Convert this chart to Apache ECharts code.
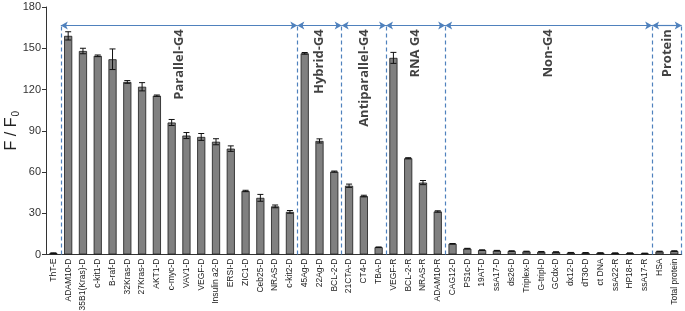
<!DOCTYPE html>
<html>
<head>
<meta charset="utf-8">
<script src="https://cdn.jsdelivr.net/npm/echarts@6/dist/echarts.min.js"></script>
<style>
html, body { margin: 0; padding: 0; background: #fff; }
#main { width: 685px; height: 311px; }
</style>
</head>
<body>
<div id="main"></div>
<script>
// 样品名称
var categories = ['ThT-E', 'ADAM10-D', '35B1(Kras)-D', 'c-kit1-D', 'B-raf-D', '32Kras-D', '27Kras-D',
    'AKT1-D', 'c-myc-D', 'VAV1-D', 'VEGF-D', 'Insulin a2-D', 'ERSI-D', 'ZIC1-D', 'Ceb25-D', 'NRAS-D',
    'c-kit2-D', '45Ag-D', '22Ag-D', 'BCL-2-D', '21CTA-D', 'CT4-D', 'TBA-D', 'VEGF-R', 'BCL-2-R',
    'NRAS-R', 'ADAM10-R', 'CAG12-D', 'PS1c-D', '19AT-D', 'ssA17-D', 'ds26-D', 'Triplex-D', 'G-tripl-D',
    'GCdx-D', 'dx12-D', 'dT30-D', 'ct DNA', 'ssA22-R', 'HP18-R', 'ssA17-R', 'HSA', 'Total protein'];

// F/F0 平均值
var values = [1, 159, 148, 144.5, 142, 125.5, 122,
    115.5, 96, 86.5, 85.5, 82, 77, 46.2, 41.2, 35,
    31, 146.3, 82.6, 60.3, 50, 42.5, 5.3, 143, 70,
    52.3, 31.3, 7.8, 4.3, 3.2, 2.8, 2.5, 2.2, 2,
    1.8, 1.3, 1.2, 1.1, 1, 1, 0.8, 2.2, 2.5];

// 误差
var errors = [0.2, 3, 2, 0.6, 7.5, 1, 3,
    0.5, 2.2, 2.2, 2.5, 2.2, 2, 0.5, 2.5, 1,
    1, 0.6, 1.5, 0.4, 1.2, 0.6, 0.2, 4, 0.4,
    1.5, 0.5, 0.2, 0.2, 0.2, 0.2, 0.2, 0.2, 0.2,
    0.2, 0.2, 0.2, 0.2, 0.2, 0.2, 0.2, 0.2, 0.2];

// 分组名称和边界（以类别序号计）
var groupNames = ['Parallel-G4', 'Hybrid-G4', 'Antiparallel-G4', 'RNA G4', 'Non-G4', 'Protein'];
var groupBounds = [1, 17, 20, 23, 27, 41, 43];

var blue = '#4f81bd';
var arrowY = 166.5;
var labelY = 163.8;

var myChart = echarts.init(document.getElementById('main'));

var errData = values.map(function (v, i) {
    return [i, v - errors[i], v + errors[i]];
});

var dashLines = groupBounds.map(function (b) {
    return [{ coord: [b, 0] }, { coord: [b, arrowY] }];
});
var arrowLines = [];
var groupLabels = [];
for (var g = 0; g < groupNames.length; g++) {
    arrowLines.push([{ coord: [groupBounds[g], arrowY] }, { coord: [groupBounds[g + 1], arrowY] }]);
    groupLabels.push({ name: groupNames[g], value: [(groupBounds[g] + groupBounds[g + 1]) / 2, labelY] });
}

var option = {
    animation: false,
    grid: { left: 46, right: 3.3, top: 7, bottom: 56.5, containLabel: false, outerBoundsMode: 'none' },
    xAxis: [
        {
            type: 'category',
            data: categories,
            axisLine: { lineStyle: { color: '#333', width: 1 } },
            axisTick: { length: 3, lineStyle: { color: '#333' } },
            axisLabel: {
                interval: 0,
                rotate: 90,
                fontSize: 8.5,
                margin: 4,
                color: '#1a1a1a',
                fontFamily: 'Liberation Sans, Arial'
            }
        },
        { type: 'value', min: 0, max: 43, show: false }
    ],
    yAxis: {
        type: 'value',
        min: 0,
        max: 180,
        interval: 30,
        name: '{a|F / F}{b|0}',
        nameLocation: 'middle',
        nameGap: 25,
        nameMoveOverlap: false,
        nameTextStyle: {
            rich: {
                a: { fontSize: 16, color: '#222', fontFamily: 'Liberation Sans, Arial' },
                b: { fontSize: 10, color: '#222', fontFamily: 'Liberation Sans, Arial', padding: [8, 0, 0, 1] }
            }
        },
        axisLine: { show: true, lineStyle: { color: '#333', width: 1 } },
        axisTick: { show: true, length: 4, lineStyle: { color: '#333' } },
        axisLabel: { fontSize: 11, color: '#333', margin: 5, fontFamily: 'Liberation Sans, Arial' },
        splitLine: { show: false }
    },
    series: [
        {
            type: 'bar',
            data: values,
            barWidth: '55%',
            itemStyle: { color: '#808080', borderColor: '#1a1a1a', borderWidth: 0.8 }
        },
        {
            type: 'custom',
            data: errData,
            encode: { x: 0, y: [1, 2] },
            z: 3,
            renderItem: function (params, api) {
                var x = api.value(0);
                var lo = api.coord([x, api.value(1)]);
                var hi = api.coord([x, api.value(2)]);
                var hw = 3;
                var st = { stroke: '#111', lineWidth: 1 };
                return {
                    type: 'group',
                    children: [
                        { type: 'line', shape: { x1: lo[0], y1: lo[1], x2: hi[0], y2: hi[1] }, style: st },
                        { type: 'line', shape: { x1: lo[0] - hw, y1: lo[1], x2: lo[0] + hw, y2: lo[1] }, style: st },
                        { type: 'line', shape: { x1: hi[0] - hw, y1: hi[1], x2: hi[0] + hw, y2: hi[1] }, style: st }
                    ]
                };
            }
        },
        {
            type: 'scatter',
            xAxisIndex: 1,
            data: groupLabels,
            symbolSize: 1,
            z: 5,
            itemStyle: { color: 'rgba(0,0,0,0)' },
            label: {
                show: true,
                position: 'inside',
                rotate: 90,
                align: 'right',
                verticalAlign: 'middle',
                formatter: '{b}',
                fontSize: 13,
                fontWeight: 'bold',
                color: '#111',
                fontFamily: 'Open Sans, Noto Sans, sans-serif'
            },
            markLine: {
                silent: true,
                symbol: ['none', 'none'],
                label: { show: false },
                lineStyle: { color: blue, type: [4, 3], width: 1.2 },
                data: dashLines
            }
        },
        {
            type: 'scatter',
            xAxisIndex: 1,
            data: [],
            markLine: {
                silent: true,
                symbol: ['arrow', 'arrow'],
                symbolSize: [6, 7],
                label: { show: false },
                lineStyle: { color: blue, type: 'solid', width: 1.2 },
                data: arrowLines
            }
        }
    ]
};

myChart.setOption(option);
</script>
</body>
</html>
